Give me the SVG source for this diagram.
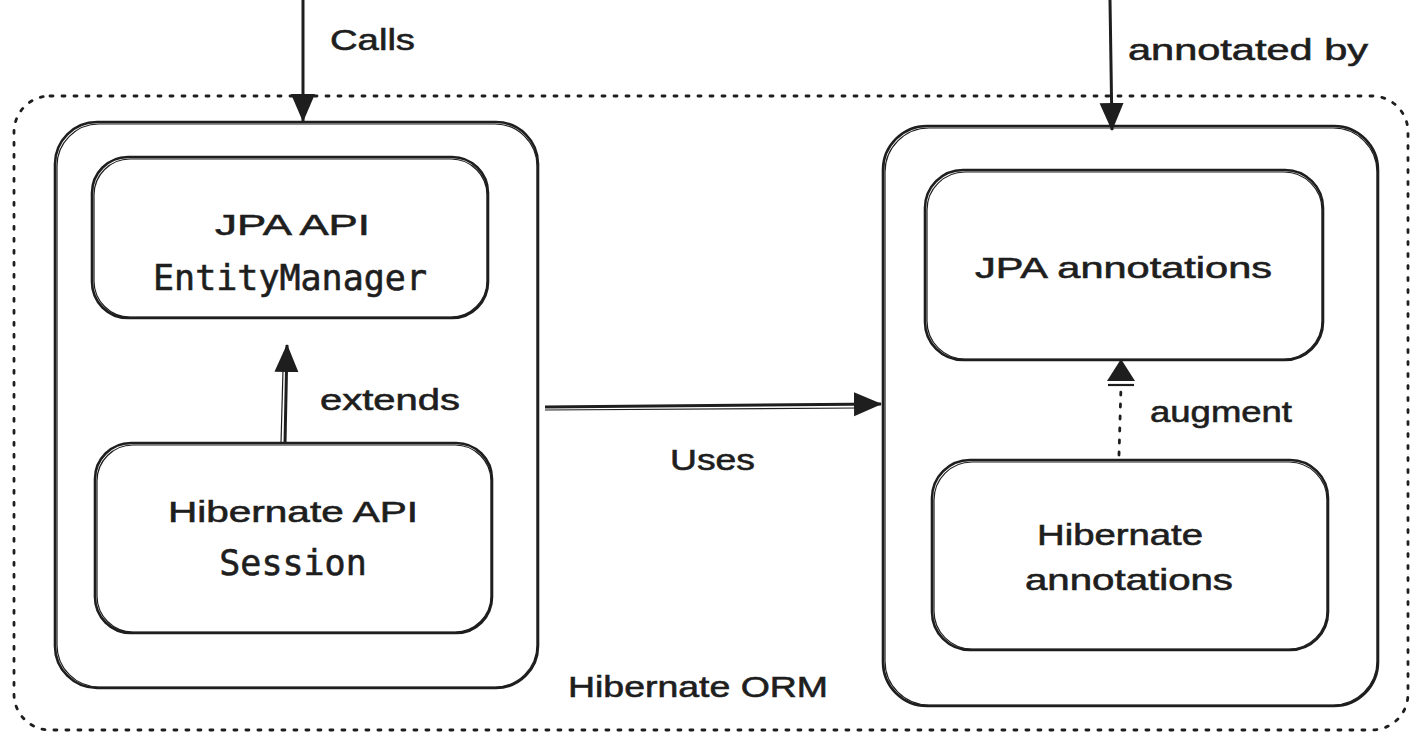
<svg xmlns="http://www.w3.org/2000/svg" width="1424" height="748" viewBox="0 0 1424 748">
<defs>
<style>
.box{fill:none;stroke:#1e1e1e;stroke-width:2.6}
.box2{fill:none;stroke:#1e1e1e;stroke-width:1.2}
.dot{fill:none;stroke:#1e1e1e;stroke-width:2.8;stroke-dasharray:3 9;stroke-linecap:round}
.line{fill:none;stroke:#1e1e1e;stroke-width:3}
.hand{font-family:"Liberation Sans","DejaVu Sans",sans-serif;font-size:30px;fill:#1e1e1e;stroke:#1e1e1e;stroke-width:0.6}
.mono{font-family:"DejaVu Sans Mono","Liberation Mono",monospace;font-size:35px;fill:#1e1e1e;stroke:#1e1e1e;stroke-width:0.6}
</style>
<marker id="ah" viewBox="0 0 28 26" refX="27" refY="13" markerWidth="28" markerHeight="26" markerUnits="userSpaceOnUse" orient="auto">
<path d="M0,1 L28,13 L0,25 Z" fill="#1e1e1e"/>
</marker>
</defs>
<rect width="1424" height="748" fill="#ffffff"/>

<g id="hibernate-orm">
<rect class="dot" x="14" y="96" width="1394" height="634" rx="36"/>
<text class="hand" x="568" y="697" textLength="260" lengthAdjust="spacingAndGlyphs">Hibernate ORM</text>
</g>

<g id="api-group">
<rect class="box" x="55" y="122" width="483" height="566" rx="42"/>
<rect class="box2" x="57" y="124" width="480" height="563" rx="42"/>
</g>

<g id="jpa-api">
<rect class="box" x="92" y="157" width="396" height="161" rx="36"/>
<rect class="box2" x="94" y="159" width="393" height="158" rx="36"/>
<text class="hand" x="215" y="235" textLength="155" lengthAdjust="spacingAndGlyphs">JPA API</text>
<text class="mono" x="290" y="290" text-anchor="middle">EntityManager</text>
</g>

<g id="hibernate-api">
<rect class="box" x="95" y="443" width="397" height="190" rx="36"/>
<rect class="box2" x="97" y="445" width="394" height="187" rx="36"/>
<text class="hand" x="168" y="522" textLength="250" lengthAdjust="spacingAndGlyphs">Hibernate API</text>
<text class="mono" x="293" y="575" text-anchor="middle">Session</text>
</g>

<g id="annotations-group">
<rect class="box" x="883" y="126" width="495" height="580" rx="44"/>
<rect class="box2" x="885" y="128" width="492" height="577" rx="44"/>
</g>

<g id="jpa-annotations">
<rect class="box" x="925" y="170" width="398" height="190" rx="38"/>
<rect class="box2" x="927" y="172" width="395" height="187" rx="38"/>
<text class="hand" x="975" y="278" textLength="297" lengthAdjust="spacingAndGlyphs">JPA annotations</text>
</g>

<g id="hibernate-annotations">
<rect class="box" x="932" y="460" width="396" height="190" rx="38"/>
<rect class="box2" x="934" y="462" width="393" height="187" rx="38"/>
<text class="hand" x="1037" y="545" textLength="166" lengthAdjust="spacingAndGlyphs">Hibernate</text>
<text class="hand" x="1025" y="590" textLength="208" lengthAdjust="spacingAndGlyphs">annotations</text>
</g>

<g id="connectors">
<path class="line" d="M303,0 L303,121" marker-end="url(#ah)"/>
<text class="hand" x="330" y="50" textLength="85" lengthAdjust="spacingAndGlyphs">Calls</text>

<path class="line" d="M1110,0 L1112,130" marker-end="url(#ah)"/>
<text class="hand" x="1128" y="60" textLength="240" lengthAdjust="spacingAndGlyphs">annotated by</text>

<path class="line" d="M285,443 L287,345" marker-end="url(#ah)"/>
<path class="box2" d="M281,443 L283,370"/>
<text class="hand" x="320" y="410" textLength="140" lengthAdjust="spacingAndGlyphs">extends</text>

<path class="line" d="M545,407 L881,404" marker-end="url(#ah)"/>
<path class="box2" d="M545,410 L860,408"/>
<text class="hand" x="670" y="470" textLength="85" lengthAdjust="spacingAndGlyphs">Uses</text>

<path class="dot" d="M1119,455 L1121,386"/>
<path d="M1107,381 L1121,359 L1135,381 Z" fill="#1e1e1e"/>
<path d="M1108,385 L1134,385" stroke="#1e1e1e" stroke-width="2.2"/>
<text class="hand" x="1150" y="422" textLength="142" lengthAdjust="spacingAndGlyphs">augment</text>
</g>
</svg>
